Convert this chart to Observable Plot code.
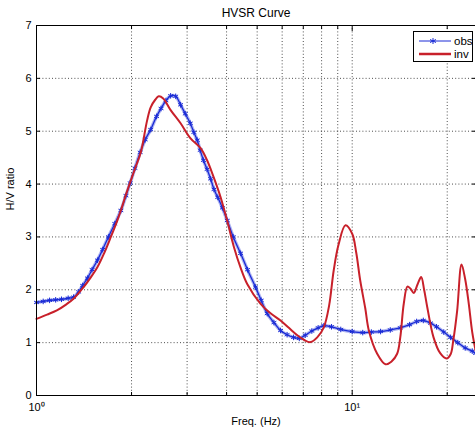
<!DOCTYPE html>
<html><head><meta charset="utf-8">
<script src="https://cdn.jsdelivr.net/npm/d3@7"></script>
<script src="https://cdn.jsdelivr.net/npm/@observablehq/plot@0.6"></script>
<style>
body{margin:0;background:#fff;overflow:hidden}
#wrap{position:relative;width:475px;height:430px}
#legend{position:absolute;left:413px;top:31px;width:60px;height:31px;border:1px solid #000;background:#fff;font:11.5px "Liberation Sans",Arial,sans-serif;box-sizing:border-box}
#legend .row{position:absolute;left:4px;height:12px;display:flex;align-items:center}
#legend svg{display:block}
</style></head><body><div id="wrap"></div>
<script>
const obsFreq = [1.00,1.05,1.10,1.15,1.20,1.26,1.31,1.36,1.40,1.45,1.50,1.56,1.62,1.69,1.77,1.85,1.92,1.98,2.05,2.13,2.21,2.30,2.40,2.48,2.57,2.66,2.76,2.86,2.96,3.07,3.15,3.23,3.30,3.38,3.47,3.56,3.65,3.75,3.88,4.02,4.20,4.43,4.66,4.94,5.15,5.38,5.65,5.93,6.22,6.52,6.80,7.10,7.45,7.80,8.13,8.60,9.20,10.0,10.8,11.5,12.3,13.2,14.2,15.2,16.0,16.8,17.7,18.5,19.5,20.5,21.6,22.8,24.0,24.6];
const obsHV = [1.76,1.78,1.80,1.81,1.82,1.84,1.86,1.96,2.08,2.22,2.38,2.56,2.76,3.00,3.25,3.50,3.78,4.02,4.30,4.60,4.84,5.03,5.28,5.43,5.58,5.67,5.66,5.50,5.33,5.15,4.98,4.83,4.64,4.45,4.28,4.10,3.90,3.75,3.55,3.31,3.00,2.69,2.38,2.05,1.80,1.55,1.38,1.23,1.15,1.10,1.08,1.14,1.22,1.28,1.32,1.30,1.25,1.21,1.19,1.20,1.21,1.24,1.28,1.34,1.40,1.42,1.37,1.30,1.20,1.10,1.00,0.90,0.84,0.80];
const invFreq = [1.00,1.08,1.16,1.24,1.31,1.41,1.48,1.56,1.64,1.72,1.80,1.85,1.92,1.99,2.06,2.14,2.24,2.30,2.38,2.44,2.52,2.66,2.86,3.07,3.31,3.47,3.64,3.83,4.02,4.22,4.43,4.65,5.12,5.50,5.93,6.30,6.70,7.05,7.38,7.75,8.13,8.45,8.74,9.05,9.52,10.0,10.3,10.6,11.0,11.29,12.0,12.75,13.3,13.88,14.2,14.57,14.96,15.3,15.67,16.1,16.54,16.9,17.29,18.1,19.0,19.9,20.5,20.9,21.5,22.2,22.8,23.4,24.0,24.6];
const invHV = [1.45,1.53,1.61,1.72,1.83,2.05,2.22,2.43,2.70,3.00,3.30,3.50,3.80,4.07,4.32,4.60,5.20,5.45,5.60,5.66,5.62,5.40,5.15,4.87,4.68,4.45,4.13,3.75,3.30,2.81,2.42,2.11,1.74,1.56,1.42,1.28,1.14,1.05,1.01,1.10,1.29,1.70,2.37,2.85,3.22,3.06,2.70,2.18,1.65,1.23,0.79,0.59,0.64,0.79,1.10,1.74,2.06,2.02,1.94,2.10,2.24,2.00,1.67,1.10,0.80,0.70,0.78,1.04,1.60,2.48,2.20,1.74,1.20,0.85];
const yTicks = [0,1,2,3,4,5,6,7];
const yGrid = [1,2,3,4,5,6];
const xGrid = [2,3,4,5,6,7,8,9,10,20];
const xMinor = [2,3,4,5,6,7,8,9,20];
const xMajor = [1,10];
const xLabels = ["10\u2070","10\u00B9"];
const seriesNames = ["obs","inv"];
const blue = "#1a2bd6", red = "#c8202a";

const obs = obsFreq.map((f,i)=>({f, v: obsHV[i]}));
const inv = invFreq.map((f,i)=>({f, v: invHV[i]}));
const blank = () => "";
const grid = {stroke:"#000", strokeOpacity:0.7, strokeDasharray:"1,2.2"};

const chart = Plot.plot({
  width: 475, height: 430,
  marginTop: 25, marginLeft: 36, marginRight: 0, marginBottom: 35,
  style: {fontFamily: '"Liberation Sans", Arial, sans-serif', fontSize: "11px", background: "#fff", color: "#000"},
  x: {type: "log", domain: [1, 24.58]},
  y: {domain: [0, 7]},
  marks: [
    Plot.gridX(xGrid, grid),
    Plot.gridY(yGrid, grid),
    Plot.line(obs, {x:"f", y:"v", stroke: blue, strokeWidth: 3.5, strokeOpacity: 0.35, curve:"catmull-rom"}),
    Plot.line(obs, {x:"f", y:"v", stroke: blue, strokeWidth: 1.3, curve:"catmull-rom"}),
    Plot.dot(obs, {x:"f", y:"v", symbol:"asterisk", r: 2.6, stroke: blue, strokeWidth: 1}),
    Plot.line(inv, {x:"f", y:"v", stroke: red, strokeWidth: 2, curve:"catmull-rom"}),
    Plot.ruleX([1], {stroke:"#000"}),
    Plot.ruleY([0, 7], {stroke:"#000"}),
    Plot.axisX(xMinor, {anchor:"bottom", tickSize:-3, tickFormat: blank, label: null}),
    Plot.axisX(xMinor, {anchor:"top", tickSize:-3, tickFormat: blank, label: null}),
    Plot.axisX(xMajor, {anchor:"bottom", tickSize:-5, tickPadding: 13, tickFormat: d => xLabels[xMajor.indexOf(d)], label: null}),
    Plot.axisX(xMajor, {anchor:"top", tickSize:-5, tickFormat: blank, label: null}),
    Plot.axisY(yTicks, {anchor:"left", tickSize:-4, tickPadding: 9, tickFormat: d => String(d), label: null}),
    Plot.axisY(yTicks, {anchor:"right", tickSize:-4, tickFormat: blank, label: null}),
    Plot.text(["HVSR Curve"], {frameAnchor:"top", dy:-12, lineAnchor:"middle", fontSize: 12}),
    Plot.text(["Freq. (Hz)"], {frameAnchor:"bottom", dy:26, lineAnchor:"middle"}),
    Plot.text(["H/V ratio"], {frameAnchor:"left", dx:-26, rotate:-90, lineAnchor:"middle"})
  ]
});
const wrap = document.getElementById("wrap");
wrap.appendChild(chart);

const legend = document.createElement("div");
legend.id = "legend";
legend.innerHTML =
  `<div class="row" style="top:3px"><svg width="34" height="12"><line x1="1" y1="6" x2="33" y2="6" stroke="${blue}" stroke-width="1"/><g stroke="${blue}" stroke-width="1"><line x1="15" y1="3" x2="15" y2="9"/><line x1="12" y1="4.5" x2="18" y2="7.5"/><line x1="12" y1="7.5" x2="18" y2="4.5"/></g></svg><span style="margin-left:2px">${seriesNames[0]}</span></div>` +
  `<div class="row" style="top:16px"><svg width="34" height="12"><line x1="1" y1="6" x2="33" y2="6" stroke="${red}" stroke-width="2.5"/></svg><span style="margin-left:2px">${seriesNames[1]}</span></div>`;
wrap.appendChild(legend);
</script>
</body></html>
